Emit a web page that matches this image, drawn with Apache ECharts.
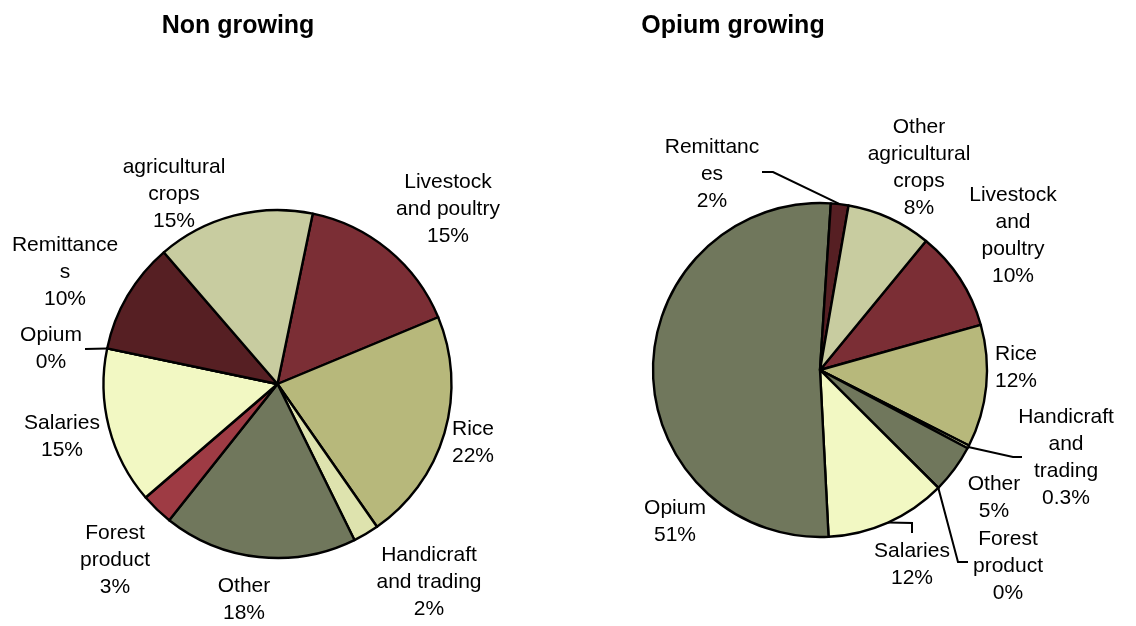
<!DOCTYPE html>
<html>
<head>
<meta charset="utf-8">
<script src="https://cdn.jsdelivr.net/npm/echarts@6/dist/echarts.min.js"></script>
<style>
html, body { margin: 0; padding: 0; background: #fff; }
#main { width: 1136px; height: 626px; }
</style>
</head>
<body>
<div id="main"></div>
<script>
// same slice order in both pies
var categories = ['Livestock and poultry', 'Rice', 'Handicraft and trading', 'Other', 'Forest product',
    'Salaries', 'Opium', 'Remittances', 'Other agricultural crops'];
var colors = ['#7b2e35', '#b7b87b', '#dee3ae', '#70775c', '#9e3b44', '#f2f8c3', '#70775c', '#561f23', '#c8cca0'];

// Non growing
var leftNames = ['Livestock\nand poultry', 'Rice', 'Handicraft\nand trading', 'Other', 'Forest\nproduct',
    'Salaries', 'Opium', 'Remittance\ns', 'agricultural\ncrops'];
var leftValues = [15.5, 21.6, 2.4, 18.0, 3.0, 14.6, 0, 10.4, 14.6];
var leftPct = ['15%', '22%', '2%', '18%', '3%', '15%', '0%', '10%', '15%'];

// Opium growing
var rightNames = ['Livestock\nand\npoultry', 'Rice', 'Handicraft\nand\ntrading', 'Other', 'Forest\nproduct',
    'Salaries', 'Opium', 'Remittanc\nes', 'Other\nagricultural\ncrops'];
var rightValues = [9.7, 11.8, 0.3, 4.7, 0, 11.7, 51.8, 1.7, 8.2];
var rightPct = ['10%', '12%', '0.3%', '5%', '0%', '12%', '51%', '2%', '8%'];

// label placement (text block centres) and leader line bends
var leftLabelPos = [[448, 209], [473, 443], [429, 582], [244, 600], [115, 560], [62, 437], [51, 349], [65, 272], [174, 194]];
var leftLeader = {6: [[85, 349]]};
var rightLabelPos = [[1013, 236], [1016, 368], [1066, 458], [994, 498], [1008, 566], [912, 565], [675, 522], [712, 174], [919, 168]];
var rightLeader = {2: [[1013, 457], [1022, 457]], 4: [[958, 562], [968, 562]], 5: [[912, 523], [912, 533]], 7: [[773, 172], [762, 172]]};

var font = 'Liberation Sans, Arial, sans-serif';

function makePie(center, radius, startAngle, names, values, pct, pos, leader) {
    var data = [];
    for (var i = 0; i < values.length; i++) {
        var item = {
            name: categories[i],
            value: values[i],
            itemStyle: {color: colors[i]}
        };
        if (!leader[i]) item.labelLine = {show: false};
        data.push(item);
    }
    return {
        type: 'pie',
        center: center,
        radius: radius,
        startAngle: startAngle,
        clockwise: true,
        avoidLabelOverlap: false,
        silent: true,
        itemStyle: {borderColor: '#000', borderWidth: 2.4},
        label: {
            show: true,
            position: 'outside',
            align: 'center',
            color: '#000',
            fontFamily: font,
            fontSize: 21,
            lineHeight: 27,
            formatter: function (p) {
                return names[p.dataIndex] + '\n' + pct[p.dataIndex];
            }
        },
        labelLine: {
            show: true,
            length: 5,
            length2: 5,
            smooth: false,
            lineStyle: {color: '#000', width: 2}
        },
        labelLayout: function (params) {
            var i = params.dataIndex;
            var res = {x: pos[i][0], y: pos[i][1], align: 'center', verticalAlign: 'middle'};
            if (leader[i] && params.labelLinePoints) {
                res.labelLinePoints = [params.labelLinePoints[0]].concat(leader[i]);
            }
            return res;
        },
        emphasis: {disabled: true},
        data: data
    };
}

var myChart = echarts.init(document.getElementById('main'));
var option = {
    backgroundColor: '#fff',
    animation: false,
    title: [{
        text: 'Non growing',
        left: 233,
        top: 9,
        textAlign: 'center',
        textStyle: {fontFamily: font, fontSize: 25, fontWeight: 'bold', color: '#000'}
    }, {
        text: 'Opium growing',
        left: 728,
        top: 9,
        textAlign: 'center',
        textStyle: {fontFamily: font, fontSize: 25, fontWeight: 'bold', color: '#000'}
    }],
    series: [
        makePie([277.5, 384], 174, 78.3, leftNames, leftValues, leftPct, leftLabelPos, leftLeader),
        makePie([820, 370], 167, 50.6, rightNames, rightValues, rightPct, rightLabelPos, rightLeader)
    ]
};
myChart.setOption(option);
</script>
</body>
</html>
